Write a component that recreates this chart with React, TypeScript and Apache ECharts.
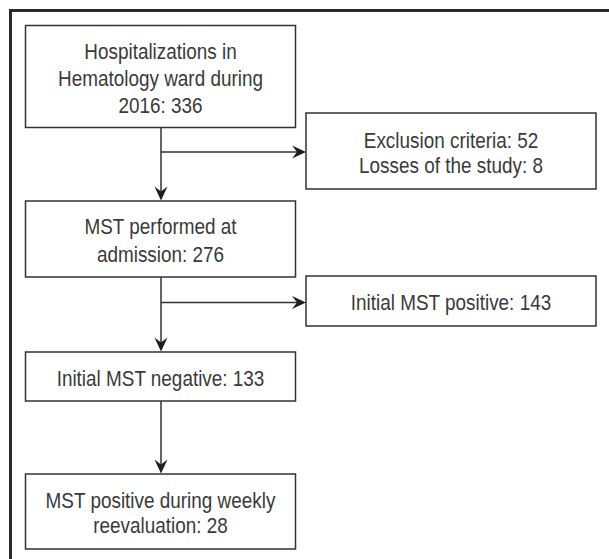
import React, { useEffect, useRef } from "react";
import * as echarts from "echarts";

// Flowchart content
const boxLabels: string[] = [
  "Hospitalizations in\nHematology ward during\n2016: 336",
  "Exclusion criteria: 52\nLosses of the study: 8",
  "MST performed at\nadmission: 276",
  "Initial MST positive: 143",
  "Initial MST negative: 133",
  "MST positive during weekly\nreevaluation: 28",
];

// Layout (x, y, w, h, lineHeight) for each box
const boxLayout: number[][] = [
  [25.5, 25.5, 270, 102, 27],
  [306, 113, 290, 76, 25],
  [25.5, 201, 270, 76, 28],
  [306, 276, 290, 50, 25],
  [25.5, 352, 270, 49, 25],
  [25.5, 474, 270, 75, 25],
];

const FONT_FAMILY = '"Liberation Sans", Arial, sans-serif';
const INK = "#333333";
const TXT = "#3a3a3a";

function arrowHead(tipX: number, tipY: number, dir: "down" | "right") {
  const L = 14;
  const W = 6.5;
  const N = 9;
  let pts: number[][];
  if (dir === "down") {
    pts = [
      [tipX, tipY],
      [tipX - W, tipY - L],
      [tipX, tipY - N],
      [tipX + W, tipY - L],
    ];
  } else {
    pts = [
      [tipX, tipY],
      [tipX - L, tipY - W],
      [tipX - N, tipY],
      [tipX - L, tipY + W],
    ];
  }
  return {
    type: "polygon",
    shape: { points: pts },
    style: { fill: "#1e1e1e", stroke: "none" },
    silent: true,
  };
}

function line(x1: number, y1: number, x2: number, y2: number, w = 1.5, c = INK) {
  return {
    type: "line",
    shape: { x1, y1, x2, y2 },
    style: { stroke: c, lineWidth: w },
    silent: true,
  };
}

export default function App() {
  const ref = useRef<HTMLDivElement>(null);
  useEffect(() => {
    document.body.style.margin = "0";
    if (!ref.current) return;
    const chart = echarts.init(ref.current, undefined, { renderer: "svg" });
    const elements: any[] = [];

    // outer frame (top + left edges)
    elements.push(line(9.5, 10.5, 609, 10.5, 3, "#2a2a2a"));
    elements.push(line(10.5, 9, 10.5, 559, 3, "#2a2a2a"));

    boxLabels.forEach((label, i) => {
      const [x, y, w, h, lh] = boxLayout[i];
      elements.push({
        type: "rect",
        shape: { x, y, width: w, height: h },
        style: { fill: "#ffffff", stroke: INK, lineWidth: 1.5 },
        silent: true,
      });
      elements.push({
        type: "text",
        x: x + w / 2,
        y: y + h / 2 + 1,
        scaleX: 0.86,
        style: {
          text: label,
          fill: TXT,
          fontFamily: FONT_FAMILY,
          fontSize: 22,
          lineHeight: lh,
          align: "center",
          verticalAlign: "middle",
        },
        silent: true,
      });
    });

    const cx = 161;
    // box1 -> MST performed
    elements.push(line(cx, 127.5, cx, 196));
    elements.push(arrowHead(cx, 200.5, "down"));
    elements.push(line(cx, 152, 301, 152));
    elements.push(arrowHead(306, 152, "right"));
    // MST performed -> negative
    elements.push(line(cx, 277, cx, 347));
    elements.push(arrowHead(cx, 351.5, "down"));
    elements.push(line(cx, 302.5, 301, 302.5));
    elements.push(arrowHead(306, 302.5, "right"));
    // negative -> weekly
    elements.push(line(cx, 401, cx, 469));
    elements.push(arrowHead(cx, 473.5, "down"));

    chart.setOption({
      animation: false,
      backgroundColor: "#ffffff",
      graphic: { elements },
    });
    return () => chart.dispose();
  }, []);
  return <div ref={ref} style={{ width: 609, height: 559 }} />;
}
